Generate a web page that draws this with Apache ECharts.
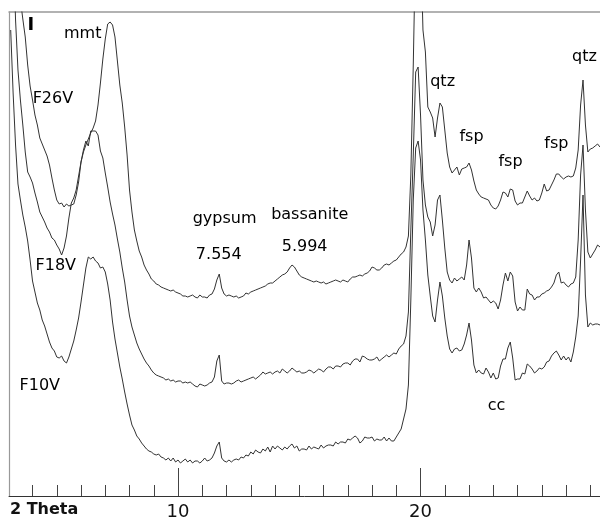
<!DOCTYPE html>
<html>
<head>
<meta charset="utf-8">
<script src="https://cdn.jsdelivr.net/npm/echarts@6.0.0/dist/echarts.min.js"></script>
<style>
html,body{margin:0;padding:0;background:#fff;}
#chart{width:600px;height:526px;}
</style>
</head>
<body>
<div id="chart"></div>
<script>
// 2-theta sampling positions (degrees)
const theta = [3.1,3.2,3.3,3.4,3.5,3.6,3.7,3.8,3.9,4.0,4.1,4.2,4.3,4.4,4.5,4.6,4.7,4.8,4.9,5.0,
5.1,5.2,5.3,5.4,5.5,5.6,5.7,5.8,5.9,6.0,6.1,6.2,6.3,6.4,6.5,6.6,6.7,6.8,6.9,7.0,
7.1,7.2,7.3,7.4,7.5,7.6,7.7,7.8,7.9,8.0,8.1,8.2,8.3,8.4,8.5,8.6,8.7,8.8,8.9,9.0,
9.1,9.2,9.3,9.4,9.5,9.6,9.7,9.8,9.9,10.0,10.1,10.2,10.3,10.4,10.5,10.6,10.7,10.8,10.9,11.0,
11.1,11.2,11.3,11.4,11.5,11.6,11.7,11.8,11.9,12.0,12.1,12.2,12.3,12.4,12.5,12.6,12.7,12.8,12.9,13.0,
13.1,13.2,13.3,13.4,13.5,13.6,13.7,13.8,13.9,14.0,14.1,14.2,14.3,14.4,14.5,14.6,14.7,14.8,14.9,15.0,
15.1,15.2,15.3,15.4,15.5,15.6,15.7,15.8,15.9,16.0,16.1,16.2,16.3,16.4,16.5,16.6,16.7,16.8,16.9,17.0,
17.1,17.2,17.3,17.4,17.5,17.6,17.7,17.8,17.9,18.0,18.1,18.2,18.3,18.4,18.5,18.6,18.7,18.8,18.9,19.0,
19.1,19.2,19.3,19.4,19.5,19.6,19.7,19.8,19.9,20.0,20.1,20.2,20.3,20.4,20.5,20.6,20.7,20.8,20.9,21.0,
21.1,21.2,21.3,21.4,21.5,21.6,21.7,21.8,21.9,22.0,22.1,22.2,22.3,22.4,22.5,22.6,22.7,22.8,22.9,23.0,
23.1,23.2,23.3,23.4,23.5,23.6,23.7,23.8,23.9,24.0,24.1,24.2,24.3,24.4,24.5,24.6,24.7,24.8,24.9,25.0,
25.1,25.2,25.3,25.4,25.5,25.6,25.7,25.8,25.9,26.0,26.1,26.2,26.3,26.4,26.5,26.6,26.7,26.8,26.9,27.0,
27.1,27.2,27.3,27.4];

// intensities (arbitrary units, stacked offsets as in the figure)
const F10V = [467,404,352,313,297,282,270,256,237,216,
205,194,187,177,171,163,155,149,146,140,
139,141,136,134,140,148,156,167,179,195,
212,229,240,238,240,236,234,229,230,225,
213,197,175,158,144,130,118,105,93,82,
72,67,61,58,54,51,48,46,45,43,
42,43,40,39,37,39,36,39,35,37,
34,36,38,35,37,34,36,36,34,36,
39,36,37,39,44,51,55,39,36,35,
37,35,37,38,37,40,39,42,41,45,
43,47,45,44,48,46,50,45,51,48,
51,49,47,50,48,51,53,49,51,46,
48,48,47,51,48,50,49,48,52,49,
51,52,52,51,55,53,55,55,54,58,
57,59,61,59,54,56,60,59,59,60,
56,58,57,57,60,56,59,56,56,60,
64,68,78,88,112,197,297,349,356,337,
287,257,222,201,181,175,197,215,201,179,
161,148,144,148,149,146,147,153,162,174,
157,132,124,127,124,123,129,125,119,124,
118,119,131,138,138,149,155,139,117,118,
118,124,123,133,131,128,124,126,129,128,
130,135,136,141,144,146,142,137,141,137,
140,135,145,160,181,237,302,202,170,174,
172,173,173,172];

const F18V = [640,560,477,427,397,372,345,325,320,314,
304,295,285,280,275,269,265,259,257,252,
248,242,249,261,279,294,299,307,321,335,
347,356,351,366,366,366,362,346,339,324,
310,295,283,272,258,245,229,215,197,181,
170,162,154,148,143,138,134,131,127,124,
122,121,120,119,117,118,116,117,115,116,
116,114,115,114,115,113,111,110,113,112,
111,112,114,115,120,136,142,116,113,114,
114,113,114,116,117,115,116,117,118,119,
120,118,120,122,125,123,124,125,123,125,
126,124,128,126,124,126,129,127,125,126,
124,124,125,127,126,124,126,128,127,125,
128,130,130,128,131,131,130,133,134,134,
132,136,138,138,135,141,140,138,137,137,
138,140,136,138,140,142,140,142,144,143,
148,151,153,161,185,267,342,425,430,382,
317,292,280,275,261,272,297,302,277,249,
225,217,214,219,216,218,220,217,232,257,
239,209,205,209,205,199,200,197,194,196,
194,188,197,212,224,216,225,221,195,186,
190,187,187,208,203,202,197,200,200,203,
204,206,207,210,214,222,225,214,215,212,
210,213,214,220,257,322,352,287,245,239,
243,247,252,250];

const F26V = [600,570,545,520,497,478,460,432,411,397,
382,372,359,353,347,341,332,319,307,297,
293,294,290,293,291,292,293,302,315,335,
345,352,358,364,369,376,392,414,438,458,
473,475,472,460,436,412,394,370,342,307,
285,267,256,246,240,232,227,223,218,216,
213,212,210,209,208,207,206,207,205,204,
203,201,201,200,201,202,200,199,202,200,
200,199,202,203,208,217,223,209,203,201,
202,201,200,201,199,200,201,204,203,205,
206,207,208,209,210,211,213,214,214,216,
218,220,222,223,225,229,232,230,226,222,
220,219,218,217,216,215,216,215,214,215,
213,214,215,216,217,216,215,217,216,215,
218,220,220,221,222,221,223,224,226,230,
229,227,227,229,232,233,232,234,236,237,
240,243,245,250,261,322,432,560,600,560,
467,445,390,385,379,360,379,394,390,367,
344,330,324,327,330,322,328,329,330,334,
327,316,307,303,300,299,298,297,292,289,
288,291,297,305,304,300,308,307,296,292,
294,294,300,306,301,297,299,296,297,304,
313,306,307,312,317,323,323,320,318,320,
321,320,321,329,347,392,417,372,345,348,
349,351,353,350];

// axis ticks
const majorTicks = [10, 20];
const minorTicks = [4,5,6,7,8,9,11,12,13,14,15,16,17,18,19,21,22,23,24,25,26,27];

// annotation texts and their anchor [2theta, intensity]
const annoNames = ['mmt','F26V','F18V','F10V','gypsum','7.554','bassanite','5.994','qtz','fsp','fsp','fsp','qtz','cc'];
const annoTheta = [6.07,4.84,4.96,4.30,11.92,11.68,15.43,15.22,20.91,22.10,23.71,25.60,26.76,23.13];
const annoInt   = [463,398,231,111,278,242,282,250,415,360,335,353,440,91];
const yLabel = {name:'I', theta:3.93, value:472};

const FONT = '"DejaVu Sans", Verdana, sans-serif';
const LINE_COLOR = '#333';

const chart = echarts.init(document.getElementById('chart'), null, {renderer:'canvas'});

function pairs(vals){ return theta.map((t,i)=>[t, vals[i]]); }

const annoData = annoNames.map((n,i)=>({name:n, value:[annoTheta[i], annoInt[i]]}));
annoData.push({name:yLabel.name, value:[yLabel.theta, yLabel.value],
  label:{fontWeight:'bold', fontSize:18}});

const X_MIN = 3.03, X_MAX = 27.4;

chart.setOption({
  animation:false,
  backgroundColor:'#fff',
  grid:{left:9, right:0, top:12, bottom:30, containLabel:false, outerBoundsMode:'none'},
  xAxis:[
    {type:'value', min:X_MIN, max:X_MAX, position:'bottom',
     axisLine:{show:true, onZero:false, lineStyle:{color:'#333', width:1}},
     axisTick:{show:true, inside:true, length:11, customValues:minorTicks, lineStyle:{color:'#444'}},
     axisLabel:{show:false}, splitLine:{show:false}},
    {type:'value', min:X_MIN, max:X_MAX, position:'bottom',
     axisLine:{show:false, onZero:false},
     axisTick:{show:true, inside:true, length:28, customValues:majorTicks, lineStyle:{color:'#444'}},
     axisLabel:{show:true, customValues:majorTicks, fontSize:18, color:'#111', margin:7, fontFamily:FONT},
     splitLine:{show:false}},
    {type:'value', min:X_MIN, max:X_MAX, position:'top',
     axisLine:{show:true, onZero:false, lineStyle:{color:'#999', width:1.5}},
     axisTick:{show:false}, axisLabel:{show:false}, splitLine:{show:false}}
  ],
  yAxis:{type:'value', min:1, max:485,
     axisLine:{show:true, onZero:false, lineStyle:{color:'#999', width:1.2}},
     axisTick:{show:false}, axisLabel:{show:false}, splitLine:{show:false}},
  graphic:[
    {type:'text', left:10, top:502, style:{text:'2 Theta', font:'bold 16px ' + FONT, fill:'#111'}}
  ],
  series:[
    {type:'line', name:'F10V', data:pairs(F10V), showSymbol:false, symbol:'none', clip:true,
     lineStyle:{color:LINE_COLOR, width:1}},
    {type:'line', name:'F18V', data:pairs(F18V), showSymbol:false, symbol:'none', clip:true,
     lineStyle:{color:LINE_COLOR, width:1}},
    {type:'line', name:'F26V', data:pairs(F26V), showSymbol:false, symbol:'none', clip:true,
     lineStyle:{color:LINE_COLOR, width:1}},
    {type:'scatter', name:'labels', data:annoData, symbol:'circle', symbolSize:1, clip:false, silent:true,
     itemStyle:{color:'#fff', opacity:1},
     labelLayout:{hideOverlap:false},
     label:{show:true, position:'inside', formatter:'{b}', fontSize:16, color:'#000',
            textBorderWidth:0, opacity:1, fontFamily:FONT}}
  ]
});
</script>
</body>
</html>
